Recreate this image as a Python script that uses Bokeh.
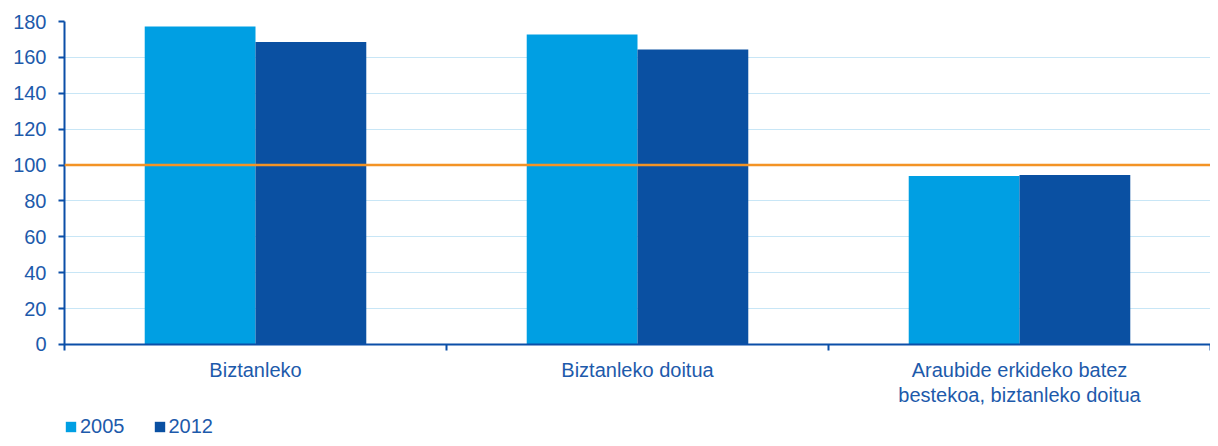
from bokeh.plotting import figure
from bokeh.models import FixedTicker, Legend, LegendItem, ColumnDataSource, Range1d, Span
from bokeh.transform import dodge
from bokeh.embed import file_html
from bokeh.resources import INLINE

categories = ["Biztanleko", "Biztanleko doitua", "Araubide erkideko batez\nbestekoa, biztanleko doitua"]
series_2005 = [177.2, 172.8, 93.9]
series_2012 = [168.6, 164.4, 94.5]
reference_level = 100
y_ticks = [0, 20, 40, 60, 80, 100, 120, 140, 160, 180]

FONT = "Liberation Sans"
TEXT = "#1D5AAB"
AXIS = "#0B4FA8"
C2005 = "#009FE3"
C2012 = "#0A50A2"
ORANGE = "#F39325"
GRID = "#C8E6F6"

pos = [i + 0.5 for i in range(len(categories))]
src = ColumnDataSource(dict(x=pos, a=series_2005, b=series_2012))

# the frame extends below zero so that the category labels and legend sit inside it
p = figure(width=1210, height=438, output_backend="svg", toolbar_location=None,
           x_range=Range1d(0, len(categories)), y_range=Range1d(-52.4, 180),
           min_border_left=64, min_border_right=0, min_border_top=21, min_border_bottom=0)
p.outline_line_color = None
p.background_fill_color = "white"
p.border_fill_color = "white"

r1 = p.vbar(x=dodge("x", -0.145, range=p.x_range), top="a", width=0.29, source=src,
            fill_color=C2005, line_color=None)
r2 = p.vbar(x=dodge("x", 0.145, range=p.x_range), top="b", width=0.29, source=src,
            fill_color=C2012, line_color=None)

p.add_layout(Span(location=reference_level, dimension="width", line_color=ORANGE, line_width=2.5))

# grid
p.xgrid.visible = False
p.ygrid.ticker = FixedTicker(ticks=y_ticks)
p.ygrid.grid_line_color = GRID
p.ygrid.grid_line_width = 1

# y axis
p.yaxis.ticker = FixedTicker(ticks=y_ticks)
p.yaxis.bounds = (-3.5, 180)
p.yaxis.axis_line_color = AXIS
p.yaxis.axis_line_width = 2
p.yaxis.major_tick_line_color = AXIS
p.yaxis.major_tick_line_width = 2
p.yaxis.major_tick_out = 6
p.yaxis.major_tick_in = 0
p.yaxis.minor_tick_line_color = None
p.yaxis.major_label_text_font = FONT
p.yaxis.major_label_text_font_size = "20px"
p.yaxis.major_label_text_color = TEXT
p.yaxis.major_label_standoff = 12

# x axis, fixed at zero
p.xaxis.fixed_location = 0
p.xaxis.ticker = FixedTicker(ticks=pos, minor_ticks=[1, 2, 3])
p.xaxis.major_label_overrides = {pos[i]: categories[i] for i in range(len(categories))}
p.xaxis.axis_line_color = AXIS
p.xaxis.axis_line_width = 2
p.xaxis.major_tick_line_color = None
p.xaxis.minor_tick_line_color = AXIS
p.xaxis.minor_tick_line_width = 2
p.xaxis.minor_tick_out = 6
p.xaxis.minor_tick_in = 0
p.xaxis.major_label_text_font = FONT
p.xaxis.major_label_text_font_size = "20px"
p.xaxis.major_label_text_line_height = 1.1
p.xaxis.major_label_text_color = TEXT
p.xaxis.major_label_standoff = 9

legend = Legend(items=[LegendItem(label="2005", renderers=[r1]), LegendItem(label="2012", renderers=[r2])],
                orientation="horizontal", location="bottom_left",
                border_line_color=None, background_fill_alpha=0,
                padding=0, margin=0, spacing=28,
                glyph_width=13, glyph_height=13, label_standoff=3,
                label_text_font=FONT, label_text_font_size="20px", label_text_color=TEXT)
p.add_layout(legend, "center")

open("out.html", "w").write(file_html(p, INLINE))
